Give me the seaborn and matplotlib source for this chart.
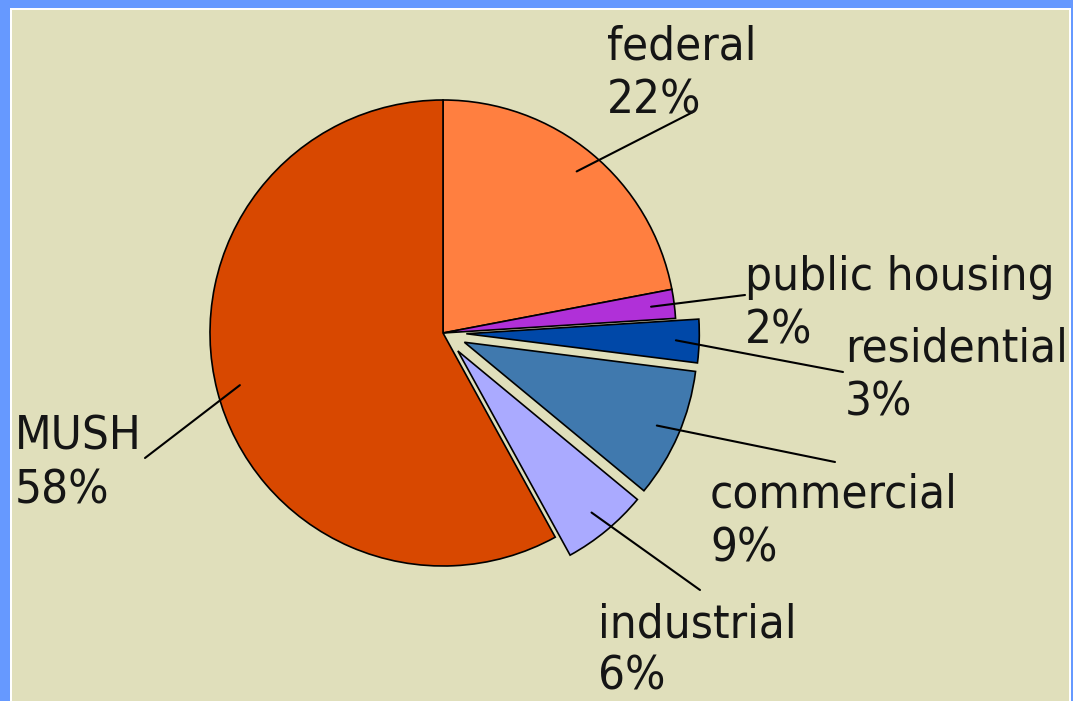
import numpy as np
import matplotlib
matplotlib.use('Agg')
import matplotlib.pyplot as plt
import seaborn as sns
from matplotlib.patches import Rectangle

# dados
setores = ['federal', 'public housing', 'residential', 'commercial', 'industrial', 'MUSH']
percentuais = [22, 2, 3, 9, 6, 58]
destaque = [0, 0, 0.1, 0.1, 0.1, 0]
cores = ['#ff7f40', '#b030d8', '#0048a8', '#4079ae', '#aaaaff', '#d84800']

# posição do texto (px, origem no topo) e fim da linha guia
pos_texto = [(607, 60), (745, 290), (845, 362), (710, 508), (598, 637), (15, 450)]
fim_linha = [(693, 112), (745, 295), (843, 372), (835, 462), (700, 590), (145, 458)]

W, H = 1073, 701
RAIO = 233
sns.set_theme(style='white')
plt.rcParams['font.family'] = ['DejaVu Sans']

fig = plt.figure(figsize=(W / 100, H / 100), dpi=100, facecolor='#6699ff')
ax = fig.add_axes([0, 0, 1, 1])

# moldura e fundo
ax.add_patch(Rectangle((10, 0), 1061, H - 8, facecolor='white', edgecolor='none', zorder=0))
ax.add_patch(Rectangle((12, 0), 1057, H - 10, facecolor='#e0dfbb', edgecolor='none', zorder=0))

# explode do matplotlib é em unidades de dados -> escala pelo raio
wedges, _ = ax.pie(percentuais, colors=cores, explode=[d * RAIO for d in destaque],
                   startangle=90, counterclock=False, center=(443, H - 333), radius=RAIO,
                   wedgeprops=dict(edgecolor='black', linewidth=1.2))

fonte = dict(fontsize=34, fontstretch='condensed', ha='left', va='baseline',
             color='#151515', zorder=6)

for w, nome, p, (tx, ty), (ex, ey) in zip(wedges, setores, percentuais, pos_texto, fim_linha):
	meio = np.deg2rad((w.theta1 + w.theta2) / 2)
	cx, cy = w.center
	sx = cx + 0.9 * w.r * np.cos(meio)
	sy = cy + 0.9 * w.r * np.sin(meio)
	ax.plot([sx, ex], [sy, H - ey], color='black', lw=1.5, zorder=5)
	ax.text(tx, H - ty, nome, **fonte)
	ax.text(tx, H - ty - 53, f'{p}%', **fonte)

ax.set_xlim(0, W)
ax.set_ylim(0, H)
ax.set_aspect('equal')
ax.axis('off')

fig.savefig('out.png', dpi=100, facecolor=fig.get_facecolor())
